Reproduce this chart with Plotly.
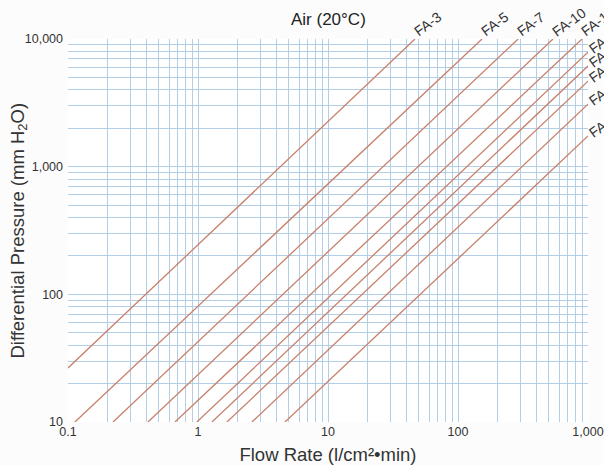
import math
import plotly.graph_objects as go

# Each line: start (x, y) and end (x, y)
line_names = ["FA-3", "FA-5", "FA-7", "FA-10", "FA-1", "FA", "FA", "FA", "FA", "FA"]
x_start = [0.1, 0.113, 0.222, 0.412, 0.665, 0.98, 1.28, 1.67, 2.6, 4.67]
y_start = [26.5, 10, 10, 10, 10, 10, 10, 10, 10, 10]
x_end = [46.7, 153, 290, 538, 900, 1000, 1000, 1000, 1000, 1000]
y_end = [10000, 10000, 10000, 10000, 10000, 7880, 6140, 4680, 3090, 1740]

x_ticks = [0.1, 1, 10, 100, 1000]
x_tick_labels = ["0.1", "1", "10", "100", "1,000"]
y_ticks = [10, 100, 1000, 10000]
y_tick_labels = ["10", "100", "1,000", "10,000"]

LINE_COLOR = "#c8806a"
GRID_COLOR = "#b3cfe7"
FONT = "Liberation Sans, Arial, Helvetica"
LABEL_SIZE = 14
LABEL_ANGLE = 36

fig = go.Figure()
for i, name in enumerate(line_names):
    fig.add_trace(go.Scatter(
        x=[x_start[i], x_end[i]], y=[y_start[i], y_end[i]],
        mode="lines", line=dict(color=LINE_COLOR, width=1.3),
        name=name, showlegend=False, hoverinfo="skip"))

# labels: centred along the rotated baseline, starting at each line's exit point
ca, sa = math.cos(math.radians(LABEL_ANGLE)), math.sin(math.radians(LABEL_ANGLE))
for i, name in enumerate(line_names):
    half = 0.6 * LABEL_SIZE * len(name) / 2
    if y_end[i] >= 10000:
        ax, ay, bx, by = math.log10(x_end[i]), 4, -1, 5
    else:
        ax, ay, bx, by = 3, math.log10(y_end[i]), 3, 2
    fig.add_annotation(x=ax, y=ay, xref="x", yref="y",
                       xshift=bx + half * ca, yshift=by + half * sa,
                       text=name, showarrow=False, textangle=-LABEL_ANGLE,
                       xanchor="center", yanchor="middle",
                       font=dict(family=FONT, size=LABEL_SIZE, color="#333"))

fig.add_annotation(x=0.5, y=1.0, xref="paper", yref="paper", yshift=8,
                   text="Air (20°C)", showarrow=False, yanchor="bottom",
                   font=dict(family=FONT, size=17, color="#222"))

# y-axis title placed as annotation for exact position
fig.add_annotation(x=-0.096, y=0.5, xref="paper", yref="paper",
                   text="Differential Pressure (mm H<sub>2</sub>O)", showarrow=False,
                   textangle=-90, xanchor="center", yanchor="middle",
                   font=dict(family=FONT, size=18.5, color="#333"))

axis_common = dict(
    type="log", showgrid=True, gridcolor=GRID_COLOR, gridwidth=1,
    minor=dict(showgrid=True, gridcolor=GRID_COLOR, gridwidth=1, dtick="D1"),
    showline=False, zeroline=False, ticks="", automargin=False,
    tickfont=dict(family=FONT, size=12.5, color="#333"),
)

fig.update_xaxes(**axis_common, range=[-1, 3], tickvals=x_ticks, ticktext=x_tick_labels,
                 title=dict(text="Flow Rate (l/cm²•min)", standoff=10,
                            font=dict(family=FONT, size=18.5, color="#333")))
fig.update_yaxes(**axis_common, range=[1, 4], tickvals=y_ticks, ticktext=y_tick_labels,
                 ticklabelstandoff=4)

fig.update_layout(
    width=604, height=465,
    margin=dict(l=68, r=16, t=39, b=43),
    plot_bgcolor="white", paper_bgcolor="#fcfcfc",
)

fig.write_html("out.html", config={"displayModeBar": False},
               post_script="document.body.style.margin='0px';")
